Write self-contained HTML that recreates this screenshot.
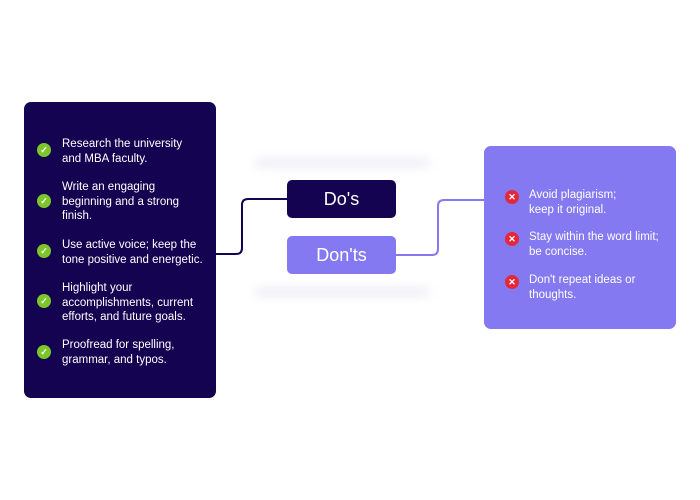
<!DOCTYPE html>
<html><head><style>
body{margin:0;width:700px;height:500px;background:#fff;position:relative;overflow:hidden;font-family:"Liberation Sans",sans-serif}
.box{position:absolute;border-radius:7px}
.t{position:absolute;color:#fff;font-size:11.5px;line-height:14.5px;white-space:nowrap}
.ic{position:absolute;width:14px;height:14px;border-radius:50%;color:#fff;font-size:9px;font-weight:bold;text-align:center;line-height:14px}
.g{background:#7cc52a}.r{background:#e4283a}
.bar{position:absolute;left:255px;width:175px;height:8px;border-radius:5px;background:#ececf4;filter:blur(5px)}
</style></head><body>
<div class="bar" style="top:159px"></div>
<div class="bar" style="top:288px"></div>
<div class="box" style="left:24px;top:102px;width:192px;height:296px;background:#140350"></div>
<div class="box" style="left:484px;top:146px;width:192px;height:183px;background:#8479f1"></div>
<div class="box" style="left:287px;top:180px;width:109px;height:38px;background:#140350;border-radius:5px;color:#fff;font-size:18px;text-align:center;line-height:38px">Do's</div>
<div class="box" style="left:287px;top:236px;width:109px;height:38px;background:#8479f1;border-radius:5px;color:#fff;font-size:18px;text-align:center;line-height:38px">Don'ts</div>
<svg style="position:absolute;left:0;top:0" width="700" height="500">
<path d="M216 254 H236 Q242 254 242 248 V205 Q242 199 248 199 H287" fill="none" stroke="#140350" stroke-width="2"/>
<path d="M396 255 H432 Q438 255 438 249 V206 Q438 200 444 200 H484" fill="none" stroke="#8479f1" stroke-width="2"/>
</svg>
<div class="ic g" style="left:37px;top:143px">✓</div>
<div class="t" style="left:62px;top:137px">Research the university<br>and MBA faculty.</div>
<div class="ic g" style="left:37px;top:194px">✓</div>
<div class="t" style="left:62px;top:180px">Write an engaging<br>beginning and a strong<br>finish.</div>
<div class="ic g" style="left:37px;top:244px">✓</div>
<div class="t" style="left:62px;top:238px">Use active voice; keep the<br>tone positive and energetic.</div>
<div class="ic g" style="left:37px;top:294px">✓</div>
<div class="t" style="left:62px;top:281px">Highlight your<br>accomplishments, current<br>efforts, and future goals.</div>
<div class="ic g" style="left:37px;top:345px">✓</div>
<div class="t" style="left:62px;top:338px">Proofread for spelling,<br>grammar, and typos.</div>
<div class="ic r" style="left:505px;top:190px">✕</div>
<div class="t" style="left:529px;top:188px">Avoid plagiarism;<br>keep it original.</div>
<div class="ic r" style="left:505px;top:232px">✕</div>
<div class="t" style="left:529px;top:230px">Stay within the word limit;<br>be concise.</div>
<div class="ic r" style="left:505px;top:275px">✕</div>
<div class="t" style="left:529px;top:273px">Don't repeat ideas or<br>thoughts.</div>
</body></html>
